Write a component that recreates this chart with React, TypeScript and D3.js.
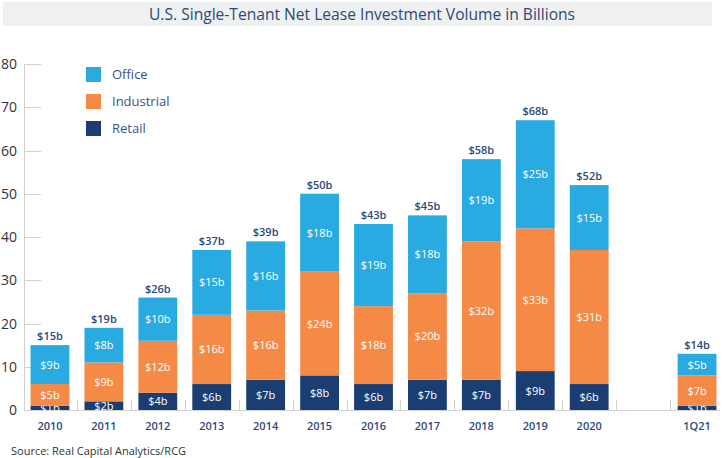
import React from "react";
import * as d3 from "d3";

const categories = ["2010", "2011", "2012", "2013", "2014", "2015", "2016", "2017", "2018", "2019", "2020", "", "1Q21"];
const retail = [1, 2, 4, 6, 7, 8, 6, 7, 7, 9, 6, null, 1];
const industrial = [5, 9, 12, 16, 16, 24, 18, 20, 32, 33, 31, null, 7];
const office = [9, 8, 10, 15, 16, 18, 19, 18, 19, 25, 15, null, 5];
const totalLabels = ["$15b", "$19b", "$26b", "$37b", "$39b", "$50b", "$43b", "$45b", "$58b", "$68b", "$52b", "", "$14b"];
const yTicks = [0, 10, 20, 30, 40, 50, 60, 70, 80];
const seriesNames = ["Office", "Industrial", "Retail"];
const colors: Record<string, string> = { Office: "#29abe2", Industrial: "#f58a47", Retail: "#1a3e72" };

const W = 724, H = 458;
const FONT = "'Open Sans', sans-serif";
const NAVY = "#2c4a7c";

export default function App() {
  const x = d3.scaleBand<string>().domain(categories.map((c, i) => c || "gap" + i)).range([23, 724]).paddingInner(0.28).paddingOuter(0.14);
  const y = d3.scaleLinear().domain([0, 80]).range([410, 64]);

  const rows = categories.map((c, i) => ({ key: c || "gap" + i, Retail: retail[i] ?? 0, Industrial: industrial[i] ?? 0, Office: office[i] ?? 0, empty: retail[i] == null }));
  const stack = d3.stack<any>().keys(["Retail", "Industrial", "Office"]);
  const series = stack(rows);
  const step = x.step();
  const x0 = x.range()[0];

  return (
    <svg width={W} height={H} style={{ position: "absolute", left: 0, top: 0, fontFamily: FONT }}>
      <rect x={3} y={2} width={709} height={24} fill="#eef0f2" />
      <text x={362} y={20} textAnchor="middle" fontSize={15.6} fill="#2c4a72">U.S. Single-Tenant Net Lease Investment Volume in Billions</text>

      {/* y axis */}
      <line x1={24.5} x2={24.5} y1={y(80)} y2={y(0)} stroke="#d0d0d0" />
      {yTicks.map((t) => (
        <g key={t}>
          <line x1={24} x2={41} y1={Math.round(y(t)) + 0.5} y2={Math.round(y(t)) + 0.5} stroke="#d0d0d0" />
          <text x={17} y={y(t) + 5} textAnchor="end" fontSize={14} fill="#333">{t}</text>
        </g>
      ))}
      {/* x baseline */}
      <line x1={24} x2={720} y1={410.5} y2={410.5} stroke="#d0d0d0" />
      {d3.range(1, categories.length).map((k) => (
        <line key={k} x1={Math.round(x0 + step * k) + 0.5} x2={Math.round(x0 + step * k) + 0.5} y1={400} y2={410} stroke="#d0d0d0" />
      ))}

      {/* bars */}
      {series.map((s) => (
        <g key={s.key} fill={colors[s.key]}>
          {s.map((d, i) => rows[i].empty ? null : (
            <g key={i}>
              <rect x={x(rows[i].key)} y={y(d[1])} width={x.bandwidth()} height={y(d[0]) - y(d[1])} />
              <text x={(x(rows[i].key) as number) + x.bandwidth() / 2} y={(y(d[0]) + y(d[1])) / 2 + 4} textAnchor="middle" fontSize={11} fill="#fff">{"$" + (d[1] - d[0]) + "b"}</text>
            </g>
          ))}
        </g>
      ))}

      {/* totals */}
      {rows.map((r, i) => r.empty ? null : (
        <text key={i} x={(x(r.key) as number) + x.bandwidth() / 2} y={y(r.Retail + r.Industrial + r.Office) - 5} textAnchor="middle" fontSize={11} fontWeight={600} fill={NAVY}>{totalLabels[i]}</text>
      ))}

      {/* x labels */}
      {rows.map((r, i) => r.empty ? null : (
        <text key={i} x={(x(r.key) as number) + x.bandwidth() / 2} y={430} textAnchor="middle" fontSize={11} fontWeight={600} fill={NAVY}>{categories[i]}</text>
      ))}

      {/* legend */}
      {seriesNames.map((n, i) => (
        <g key={n}>
          <rect x={86} y={67 + i * 27} width={15} height={15} fill={colors[n]} />
          <text x={112} y={79 + i * 27} fontSize={13} fill="#3a5285">{n}</text>
        </g>
      ))}

      <text x={11} y={455} fontSize={11} fill="#333">Source: Real Capital Analytics/RCG</text>
    </svg>
  );
}
